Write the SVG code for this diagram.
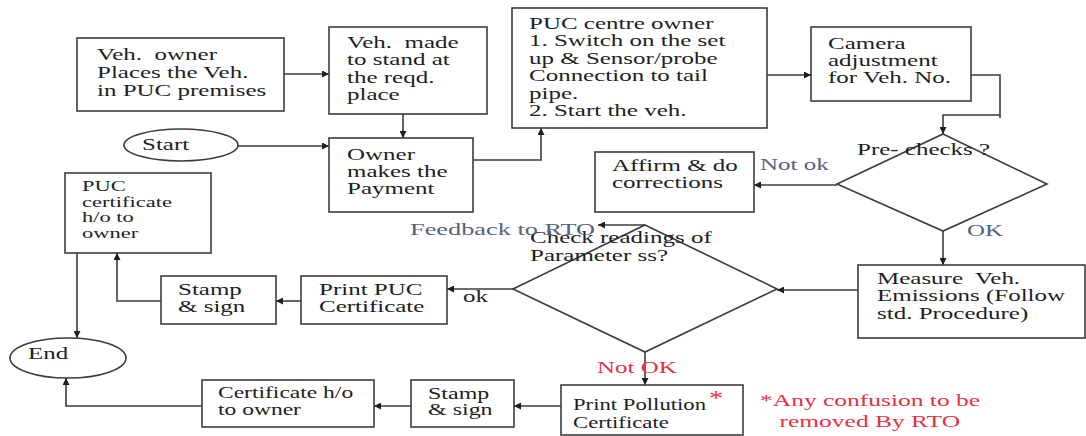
<svg xmlns="http://www.w3.org/2000/svg" width="1086" height="436" viewBox="0 0 1086 436">
<style>
.bg{fill:#ffffff}
.box{fill:#ffffff;stroke:#3c3c3c;stroke-width:1.6}
.ln{fill:none;stroke:#3c3c3c;stroke-width:1.6}
.t{font-family:"Liberation Serif","Times New Roman",serif;font-size:17px;fill:#1e1e1e;white-space:pre}
.s{font-size:16px}
.xs{font-size:15px}
.slate{fill:#56627c}
.red{fill:#e8313f}
</style>
<defs>
<marker id="ah" viewBox="0 0 10 10" refX="10" refY="5" markerWidth="8" markerHeight="7" markerUnits="userSpaceOnUse" orient="auto">
<path d="M0,0 L10,5 L0,10 z" fill="#1e1e1e"/>
</marker>
</defs>
<rect class="bg" x="0" y="0" width="1086" height="436"/>

<g id="connectors">
<path class="ln" d="M284,74 H329" marker-end="url(#ah)"/>
<path class="ln" d="M403,114 V138" marker-end="url(#ah)"/>
<path class="ln" d="M238,146 H329" marker-end="url(#ah)"/>
<path class="ln" d="M473,160 H541 V128" marker-end="url(#ah)"/>
<path class="ln" d="M767,75 H811" marker-end="url(#ah)"/>
<path class="ln" d="M971,75 H1000 V118"/>
<path class="ln" d="M1000,115 H943 V134" marker-end="url(#ah)"/>
<path class="ln" d="M837,185 H754" marker-end="url(#ah)"/>
<path class="ln" d="M943,231 V265" marker-end="url(#ah)"/>
<path class="ln" d="M858,290 H777" marker-end="url(#ah)"/>
<path class="ln" d="M645,225 H598" marker-end="url(#ah)"/>
<path class="ln" d="M513,289 H447" marker-end="url(#ah)"/>
<path class="ln" d="M301,301 H276" marker-end="url(#ah)"/>
<path class="ln" d="M161,301 H117 V253" marker-end="url(#ah)"/>
<path class="ln" d="M77,253 V338" marker-end="url(#ah)"/>
<path class="ln" d="M645,352 V385" marker-end="url(#ah)"/>
<path class="ln" d="M561,406 H514" marker-end="url(#ah)"/>
<path class="ln" d="M411,406 H374" marker-end="url(#ah)"/>
<path class="ln" d="M202,406 H66 V378" marker-end="url(#ah)"/>
</g>

<g id="owner-places">
<rect class="box" x="77" y="38" width="207" height="73"/>
<text class="t" transform="translate(97,60) scale(1.47,1)"><tspan x="0" y="0">Veh.  owner</tspan><tspan x="0" y="18">Places the Veh.</tspan><tspan x="0" y="36">in PUC premises</tspan></text>
</g>

<g id="veh-stand">
<rect class="box" x="329" y="27" width="158" height="87"/>
<text class="t" transform="translate(347,48) scale(1.47,1)"><tspan x="0" y="0">Veh.  made</tspan><tspan x="0" y="17.3">to stand at</tspan><tspan x="0" y="34.6">the reqd.</tspan><tspan x="0" y="52">place</tspan></text>
</g>

<g id="start">
<ellipse class="box" cx="181" cy="145" rx="57" ry="16"/>
<text class="t" transform="translate(142,150) scale(1.47,1)">Start</text>
</g>

<g id="payment">
<rect class="box" x="329" y="138" width="144" height="74"/>
<text class="t" transform="translate(347,160) scale(1.47,1)"><tspan x="0" y="0">Owner</tspan><tspan x="0" y="17">makes the</tspan><tspan x="0" y="34">Payment</tspan></text>
</g>

<g id="puc-centre">
<rect class="box" x="512" y="8" width="255" height="120"/>
<text class="t" transform="translate(529,29) scale(1.47,1)"><tspan x="0" y="0">PUC centre owner</tspan><tspan x="0" y="17.5">1. Switch on the set</tspan><tspan x="0" y="35">up &amp; Sensor/probe</tspan><tspan x="0" y="52.5">Connection to tail</tspan><tspan x="0" y="70">pipe.</tspan><tspan x="0" y="87.5">2. Start the veh.</tspan></text>
</g>

<g id="camera">
<rect class="box" x="811" y="27" width="160" height="74"/>
<text class="t" transform="translate(828,49) scale(1.47,1)"><tspan x="0" y="0">Camera</tspan><tspan x="0" y="17">adjustment</tspan><tspan x="0" y="34">for Veh. No.</tspan></text>
</g>

<g id="pre-checks">
<path class="box" d="M943,134 L1047,184 L943,231 L837,184 Z"/>
<text class="t" transform="translate(857,155) scale(1.47,1)">Pre- checks ?</text>
</g>

<g id="affirm">
<rect class="box" x="595" y="152" width="159" height="60"/>
<text class="t" transform="translate(612,171) scale(1.47,1)"><tspan x="0" y="0">Affirm &amp; do</tspan><tspan x="0" y="17">corrections</tspan></text>
</g>

<g id="measure">
<rect class="box" x="858" y="265" width="227" height="73"/>
<text class="t" transform="translate(877,284) scale(1.47,1)"><tspan x="0" y="0">Measure  Veh.</tspan><tspan x="0" y="17.5">Emissions (Follow</tspan><tspan x="0" y="35">std. Procedure)</tspan></text>
</g>

<g id="check-readings">
<path class="box" d="M645,225 L777,289 L645,352 L513,289 Z"/>
<text class="t" transform="translate(530,243) scale(1.47,1)"><tspan x="0" y="0">Check readings of</tspan><tspan x="0" y="18">Parameter ss?</tspan></text>
</g>

<g id="print-puc">
<rect class="box" x="301" y="276" width="146" height="48"/>
<text class="t" transform="translate(319,295) scale(1.47,1)"><tspan x="0" y="0">Print PUC</tspan><tspan x="0" y="17">Certificate</tspan></text>
</g>

<g id="stamp-sign-1">
<rect class="box" x="161" y="276" width="115" height="48"/>
<text class="t" transform="translate(178,295) scale(1.47,1)"><tspan x="0" y="0">Stamp</tspan><tspan x="0" y="17">&amp; sign</tspan></text>
</g>

<g id="puc-cert-owner">
<rect class="box" x="65" y="173" width="146" height="80"/>
<text class="t xs" transform="translate(82,191) scale(1.5,1)"><tspan x="0" y="0">PUC</tspan><tspan x="0" y="15.7">certificate</tspan><tspan x="0" y="31.4">h/o to</tspan><tspan x="0" y="47">owner</tspan></text>
</g>

<g id="end">
<ellipse class="box" cx="68" cy="358" rx="58" ry="20"/>
<text class="t" transform="translate(28,359) scale(1.47,1)">End</text>
</g>

<g id="cert-ho">
<rect class="box" x="202" y="380" width="172" height="47"/>
<text class="t s" transform="translate(218,398) scale(1.47,1)"><tspan x="0" y="0">Certificate h/o</tspan><tspan x="0" y="17">to owner</tspan></text>
</g>

<g id="stamp-sign-2">
<rect class="box" x="411" y="380" width="103" height="47"/>
<text class="t s" transform="translate(428,399) scale(1.5,1)"><tspan x="0" y="0">Stamp</tspan><tspan x="0" y="16.5">&amp; sign</tspan></text>
</g>

<g id="print-pollution">
<rect class="box" x="561" y="385" width="182" height="50"/>
<text class="t s" transform="translate(573,410) scale(1.42,1)"><tspan x="0" y="0">Print Pollution</tspan><tspan x="0" y="18">Certificate</tspan></text>
<text class="t red" transform="translate(709,405) scale(1.42,1)" style="font-size:20px">*</text>
</g>

<g id="labels">
<text class="t slate" transform="translate(760,170) scale(1.47,1)">Not ok</text>
<text class="t slate" transform="translate(967,236) scale(1.47,1)">OK</text>
<text class="t slate" transform="translate(410,235) scale(1.55,1)">Feedback to RTO</text>
<text class="t" transform="translate(463,302) scale(1.47,1)">ok</text>
<text class="t red" transform="translate(597,373) scale(1.47,1)">Not OK</text>
<text class="t red" transform="translate(760,406) scale(1.5,1)"><tspan x="0" y="0">*Any confusion to be</tspan><tspan x="13" y="21">removed By RTO</tspan></text>
</g>
</svg>
